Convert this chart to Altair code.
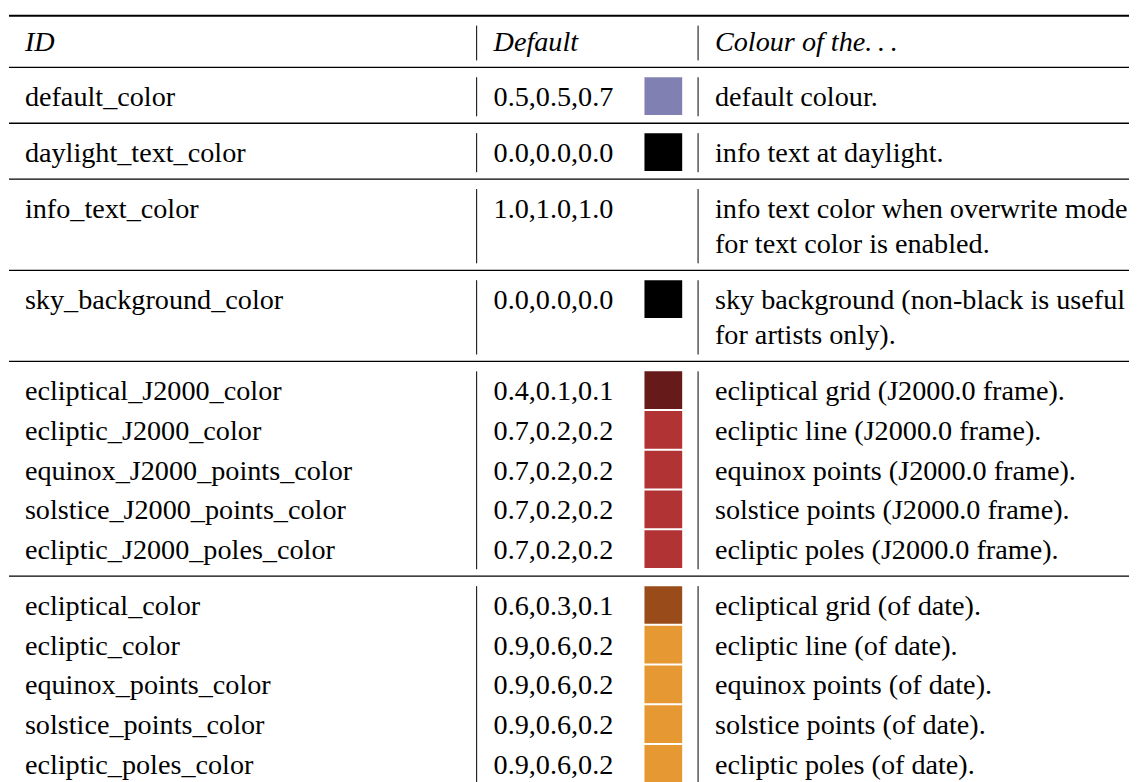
import altair as alt
import pandas as pd

# ---------------- data ----------------
headers = ["ID", "Default", "Colour of the.\u2009.\u2009."]

ids = [
    "default_color",
    "daylight_text_color",
    "info_text_color",
    "sky_background_color",
    "ecliptical_J2000_color",
    "ecliptic_J2000_color",
    "equinox_J2000_points_color",
    "solstice_J2000_points_color",
    "ecliptic_J2000_poles_color",
    "ecliptical_color",
    "ecliptic_color",
    "equinox_points_color",
    "solstice_points_color",
    "ecliptic_poles_color",
]

defaults = [
    "0.5,0.5,0.7",
    "0.0,0.0,0.0",
    "1.0,1.0,1.0",
    "0.0,0.0,0.0",
    "0.4,0.1,0.1",
    "0.7,0.2,0.2",
    "0.7,0.2,0.2",
    "0.7,0.2,0.2",
    "0.7,0.2,0.2",
    "0.6,0.3,0.1",
    "0.9,0.6,0.2",
    "0.9,0.6,0.2",
    "0.9,0.6,0.2",
    "0.9,0.6,0.2",
]

descriptions = [
    ["default colour."],
    ["info text at daylight."],
    ["info text color when overwrite mode", "for text color is enabled."],
    ["sky background (non-black is useful", "for artists only)."],
    ["ecliptical grid (J2000.0 frame)."],
    ["ecliptic line (J2000.0 frame)."],
    ["equinox points (J2000.0 frame)."],
    ["solstice points (J2000.0 frame)."],
    ["ecliptic poles (J2000.0 frame)."],
    ["ecliptical grid (of date)."],
    ["ecliptic line (of date)."],
    ["equinox points (of date)."],
    ["solstice points (of date)."],
    ["ecliptic poles (of date)."],
]

group_sizes = [1, 1, 1, 1, 5, 5]

# ---------------- layout constants ----------------
W, H = 1129, 774
FONT = "Liberation Serif"
FS = 28.4
RULE_X0, RULE_X1 = 1, 1140
COL_X = [17, 489, 712]
SEP_X = [472, 695]
SW_X0, SW_X1 = 641, 679
HEADER_TOP = 5
HEADER_BOTTOM = 57
HEADER_BASE = 36
ROW_BASE = 56.3
WRAP_PITCH = 35.5
ENTRY_PITCH = 40
BASE_OFF = 39
SW_OFF = 10
SW_H = 38
VR_TOP = 10
VR_BOT = 7


def to_hex(rgb_text):
    vals = [float(v) for v in rgb_text.split(",")]
    return "#" + "".join(f"{int(round(v * 255)):02x}" for v in vals)


texts, italics, rects, hrules, vrules = [], [], [], [], []

hrules.append({"x": RULE_X0, "x2": RULE_X1, "y": HEADER_TOP, "w": 2.0})
hrules.append({"x": RULE_X0, "x2": RULE_X1, "y": HEADER_BOTTOM, "w": 1.3})
for cx, h in zip(COL_X, headers):
    italics.append({"x": cx, "y": HEADER_TOP + HEADER_BASE, "t": h})
for sx in SEP_X:
    vrules.append({"x": sx, "y": HEADER_TOP + VR_TOP, "y2": HEADER_BOTTOM - VR_BOT})

top = HEADER_BOTTOM
idx = 0
for n in group_sizes:
    off = 0.0
    for j in range(n):
        k = idx + j
        base = top + BASE_OFF + off
        texts.append({"x": COL_X[0], "y": base, "t": ids[k]})
        texts.append({"x": COL_X[1], "y": base, "t": defaults[k]})
        for li, line in enumerate(descriptions[k]):
            texts.append({"x": COL_X[2], "y": base + li * WRAP_PITCH, "t": line})
        rects.append({
            "x": SW_X0, "x2": SW_X1,
            "y": top + SW_OFF + off, "y2": top + SW_OFF + off + SW_H,
            "c": to_hex(defaults[k]),
        })
        last_off = off + (len(descriptions[k]) - 1) * WRAP_PITCH
        off = last_off + ENTRY_PITCH
    bottom = top + ROW_BASE + last_off
    for sx in SEP_X:
        vrules.append({"x": sx, "y": top + VR_TOP, "y2": bottom - VR_BOT})
    hrules.append({"x": RULE_X0, "x2": RULE_X1, "y": bottom, "w": 1.3})
    top = bottom
    idx += n

xs = alt.Scale(domain=[0, W], nice=False, zero=False)
ys = alt.Scale(domain=[0, H], nice=False, zero=False, reverse=True)

rect_layer = alt.Chart(pd.DataFrame(rects)).mark_rect(strokeWidth=0).encode(
    x=alt.X("x:Q", scale=xs, axis=None),
    x2="x2:Q",
    y=alt.Y("y:Q", scale=ys, axis=None),
    y2="y2:Q",
    color=alt.Color("c:N", scale=None),
)

hrule_layer = alt.Chart(pd.DataFrame(hrules)).mark_rule(color="black").encode(
    x=alt.X("x:Q", scale=xs, axis=None),
    x2="x2:Q",
    y=alt.Y("y:Q", scale=ys, axis=None),
    strokeWidth=alt.StrokeWidth("w:Q", scale=None),
)

vrule_layer = alt.Chart(pd.DataFrame(vrules)).mark_rule(color="black", strokeWidth=1).encode(
    x=alt.X("x:Q", scale=xs, axis=None),
    y=alt.Y("y:Q", scale=ys, axis=None),
    y2="y2:Q",
)


def text_item(row, italic=False):
    props = dict(font=FONT, fontSize=FS, align="left", baseline="alphabetic")
    if italic:
        props["fontStyle"] = "italic"
    return alt.Chart(pd.DataFrame([row])).mark_text(**props).encode(
        x=alt.X("x:Q", scale=xs, axis=None),
        y=alt.Y("y:Q", scale=ys, axis=None),
        text="t:N",
    )


text_layers = [text_item(r) for r in texts] + [text_item(r, True) for r in italics]

chart = alt.layer(rect_layer, hrule_layer, vrule_layer, *text_layers).properties(
    width=W, height=H, padding=0, autosize=alt.AutoSizeParams(type="none"),
    background="white",
).configure_view(stroke=None)

chart.save("out.html", embed_options={"renderer": "svg", "actions": False})
